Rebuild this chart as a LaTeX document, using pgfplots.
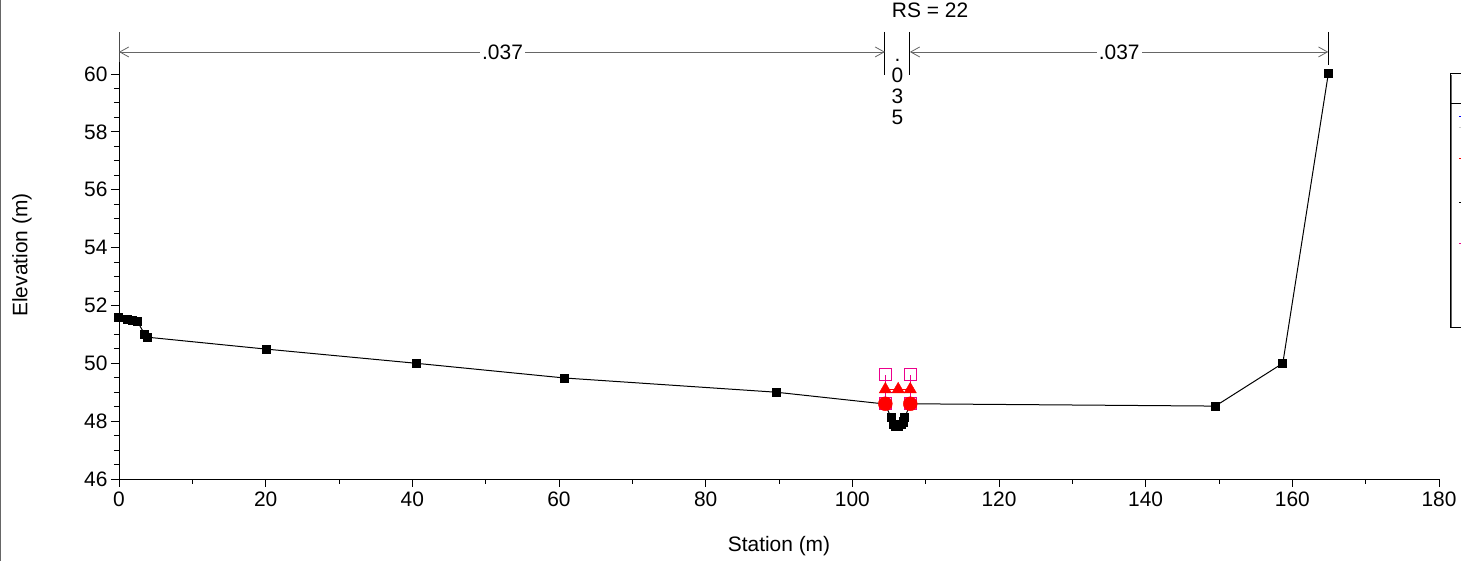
\documentclass[border=0pt]{standalone}
\usepackage{pgfplots}
\pgfplotsset{compat=1.18}
\usepackage{fontspec}
\setmainfont{Liberation Sans}
\usetikzlibrary{arrows.meta}
\begin{document}
\begin{tikzpicture}[x=1bp,y=1bp]
\begin{axis}[
  at={(0,0)}, anchor=origin,
  scale only axis, width=1320bp, height=447bp,
  xmin=0, xmax=180, ymin=46, ymax=61.45,
  axis x line*=bottom, axis y line*=left,
  axis line style={black, line width=0.8bp},
  xtick={0,20,...,180}, ytick={46,48,...,60},
  minor x tick num=1, minor y tick num=3,
  tick align=outside, major tick length=8bp, minor tick length=5bp,
  tick style={black, line width=0.8bp},
  every tick label/.append style={font=\fontsize{21}{24}\selectfont},
  /pgf/number format/assume math mode=true,
  xticklabel style={yshift=-1bp},
  clip=false,
]
% ground
\addplot[black, line width=1bp, mark=square*, mark size=4bp] coordinates {
(0,51.57) (1.1,51.50) (1.9,51.47) (2.5,51.45) (3.5,51.0) (3.9,50.9)
(20.05,50.49) (40.5,50.0) (60.8,49.49) (89.6,49.0) (104.5,48.59)
(105.28,48.11) (105.55,47.90) (105.82,47.83) (106.23,47.83) (106.64,47.87) (106.91,47.97) (107.18,48.14)
(107.9,48.6) (149.5,48.52) (158.7,50.0) (164.9,60.0)};
% water surface
\addplot[red, line width=1bp] coordinates {(104.5,49.08) (107.9,49.08)};
\addplot[blue, line width=1.2bp] coordinates {(104.5,49.0) (107.9,49.0)};
% ineffective
\addplot[magenta, line width=1bp, mark=square, mark size=6bp] coordinates {(104.5,48.6) (104.5,49.6)};
\addplot[magenta, line width=1bp, mark=square, mark size=6bp] coordinates {(107.9,48.6) (107.9,49.6)};
% triangles
\addplot[only marks, red, mark=triangle*, mark size=7bp] coordinates {(104.5,49.1) (106.25,49.1) (107.9,49.1)};
% bank stations
\addplot[only marks, red, mark=*, mark size=7bp] coordinates {(104.5,48.6) (107.9,48.6)};
% annotations
\draw[black!70, line width=0.8bp] (axis cs:0,61.45) -- (axis cs:0,60.4);
\draw[black, line width=1bp] (axis cs:104.45,61.45) -- (axis cs:104.45,59.95);
\draw[black, line width=1bp] (axis cs:107.85,61.45) -- (axis cs:107.85,59.95);
\draw[black, line width=1bp] (axis cs:164.9,61.45) -- (axis cs:164.9,60.3);
\draw[black!60, line width=0.8bp, {Straight Barb[length=9bp,width=10bp]}-{Straight Barb[length=9bp,width=10bp]}] (axis cs:0,60.76) -- (axis cs:104.45,60.76);
\draw[black!60, line width=0.8bp, {Straight Barb[length=9bp,width=10bp]}-{Straight Barb[length=9bp,width=10bp]}] (axis cs:107.85,60.76) -- (axis cs:164.9,60.76);
\node[fill=white, inner sep=2bp, font=\fontsize{21}{24}\selectfont] at (axis cs:52.3,60.76) {.037};
\node[fill=white, inner sep=2bp, font=\fontsize{21}{24}\selectfont] at (axis cs:136.4,60.76) {.037};
\node[anchor=north, align=center, inner sep=0bp, font=\fontsize{21}{21}\selectfont] at (axis cs:106.15,60.5) {.\\0\\3\\5};
\node[font=\fontsize{21}{24}\selectfont] at (axis cs:110.6,62.2) {RS = 22};
\end{axis}
\node[rotate=90, font=\fontsize{21}{24}\selectfont] at (-97,224) {Elevation (m)};
\node[font=\fontsize{21}{24}\selectfont] at (660,-67) {Station (m)};
% legend box (cut off at right edge)
\draw[black, line width=1bp] (1331,405) rectangle (1400,151);
\draw[black!60, line width=1bp] (1332,404) -- (1332,152);
\draw[black, line width=1bp] (1331,375) -- (1400,375);
\draw[blue, line width=1bp] (1340,362) -- (1345,362);
\draw[black!20, line width=1bp] (1340,351) -- (1345,351);
\draw[red, line width=1bp] (1340,320) -- (1345,320);
\draw[black, line width=1bp] (1340,276) -- (1345,276);
\draw[magenta, line width=1bp] (1340,235) -- (1345,235);
% left frame line
\draw[black!60, line width=1.5bp] (-118.5,-82) -- (-118.5,479);
\pgfresetboundingbox
\path[use as bounding box] (-119,-82) rectangle (1342,479);
\end{tikzpicture}
\end{document}
